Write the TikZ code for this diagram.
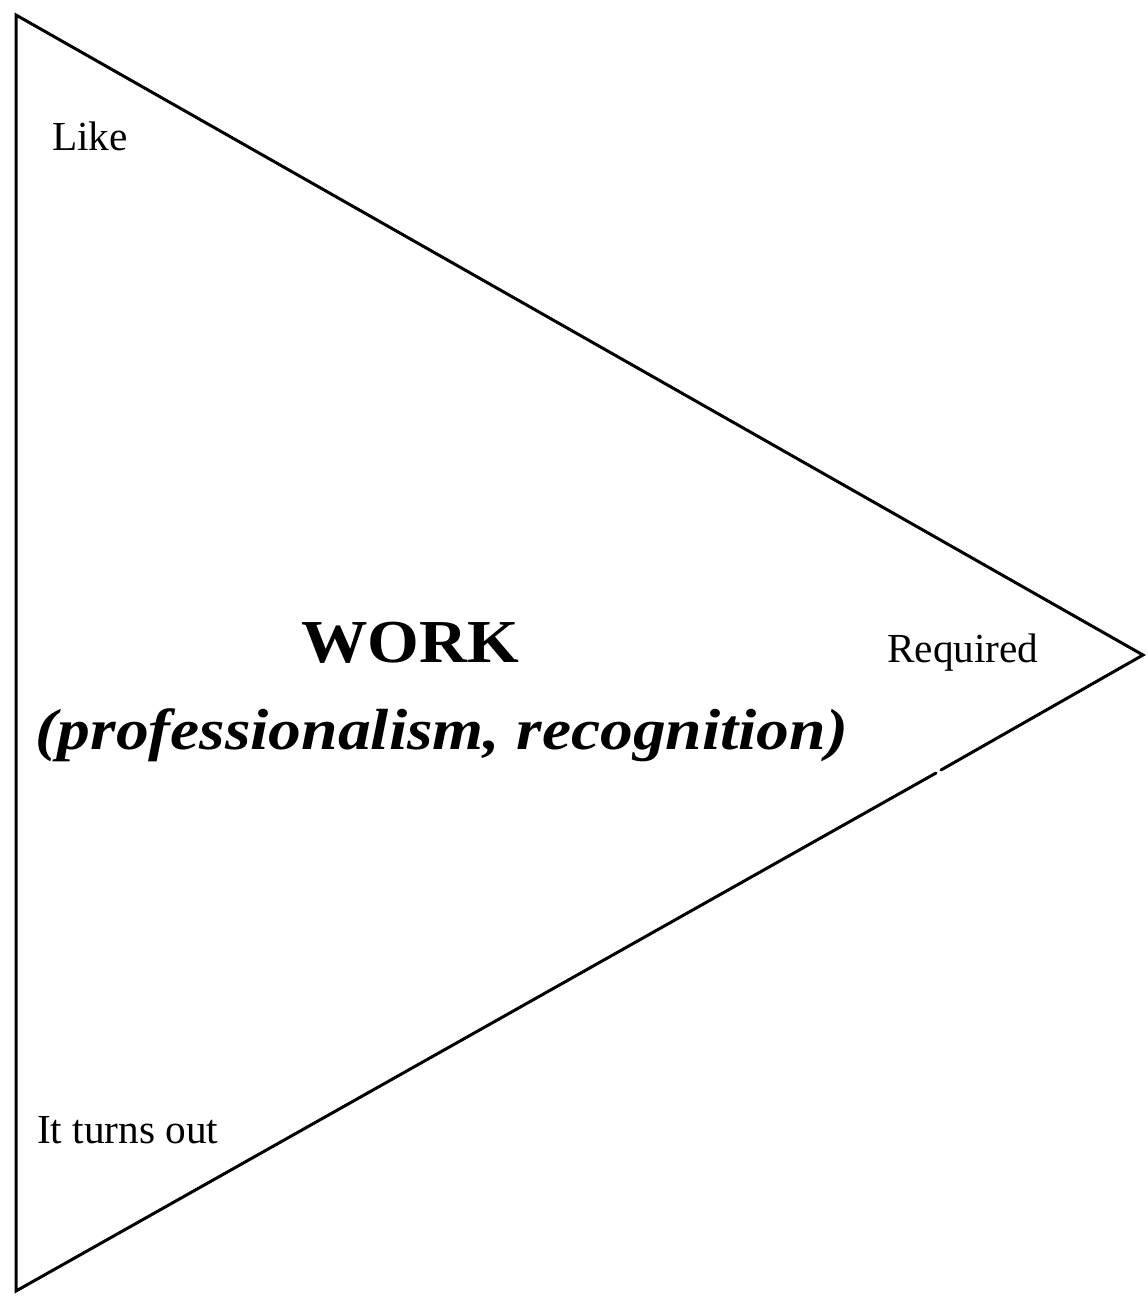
\documentclass[tikz,border=0pt]{standalone}
\usepackage{fontspec}
\setmainfont{Liberation Serif}
\begin{document}
\begin{tikzpicture}[x=1pt,y=-1pt,
  edge/.style={line width=3pt,line cap=round,line join=miter},
  lbl/.style={inner sep=0pt,anchor=base west,font=\fontsize{41.3}{45}\selectfont}]
\useasboundingbox (0,0) rectangle (1148,1299);
\fill[white] (0,0) rectangle (1148,1299);
\coordinate (tl) at (16,15);
\coordinate (rt) at (1143,655);
\coordinate (bl) at (16,1291);
\coordinate (g1) at (936,773);
\coordinate (g2) at (941,770);
\draw[edge] (g2) -- (rt) -- (tl) -- (bl) -- (g1);
\node[lbl] (like) at (52,150) {Like};
\node[lbl] (req) at (887,662) {Required};
\node[lbl] (turns) at (37,1143) {It turns out};
\node[inner sep=0pt,anchor=base,font=\bfseries\fontsize{61}{66}\selectfont,xscale=1.09] (work) at (410,662) {WORK};
\node[inner sep=0pt,anchor=base,font=\bfseries\itshape\fontsize{58}{62}\selectfont,xscale=1.13] (prof) at (442,749) {(professionalism, recognition)};
\end{tikzpicture}
\end{document}
